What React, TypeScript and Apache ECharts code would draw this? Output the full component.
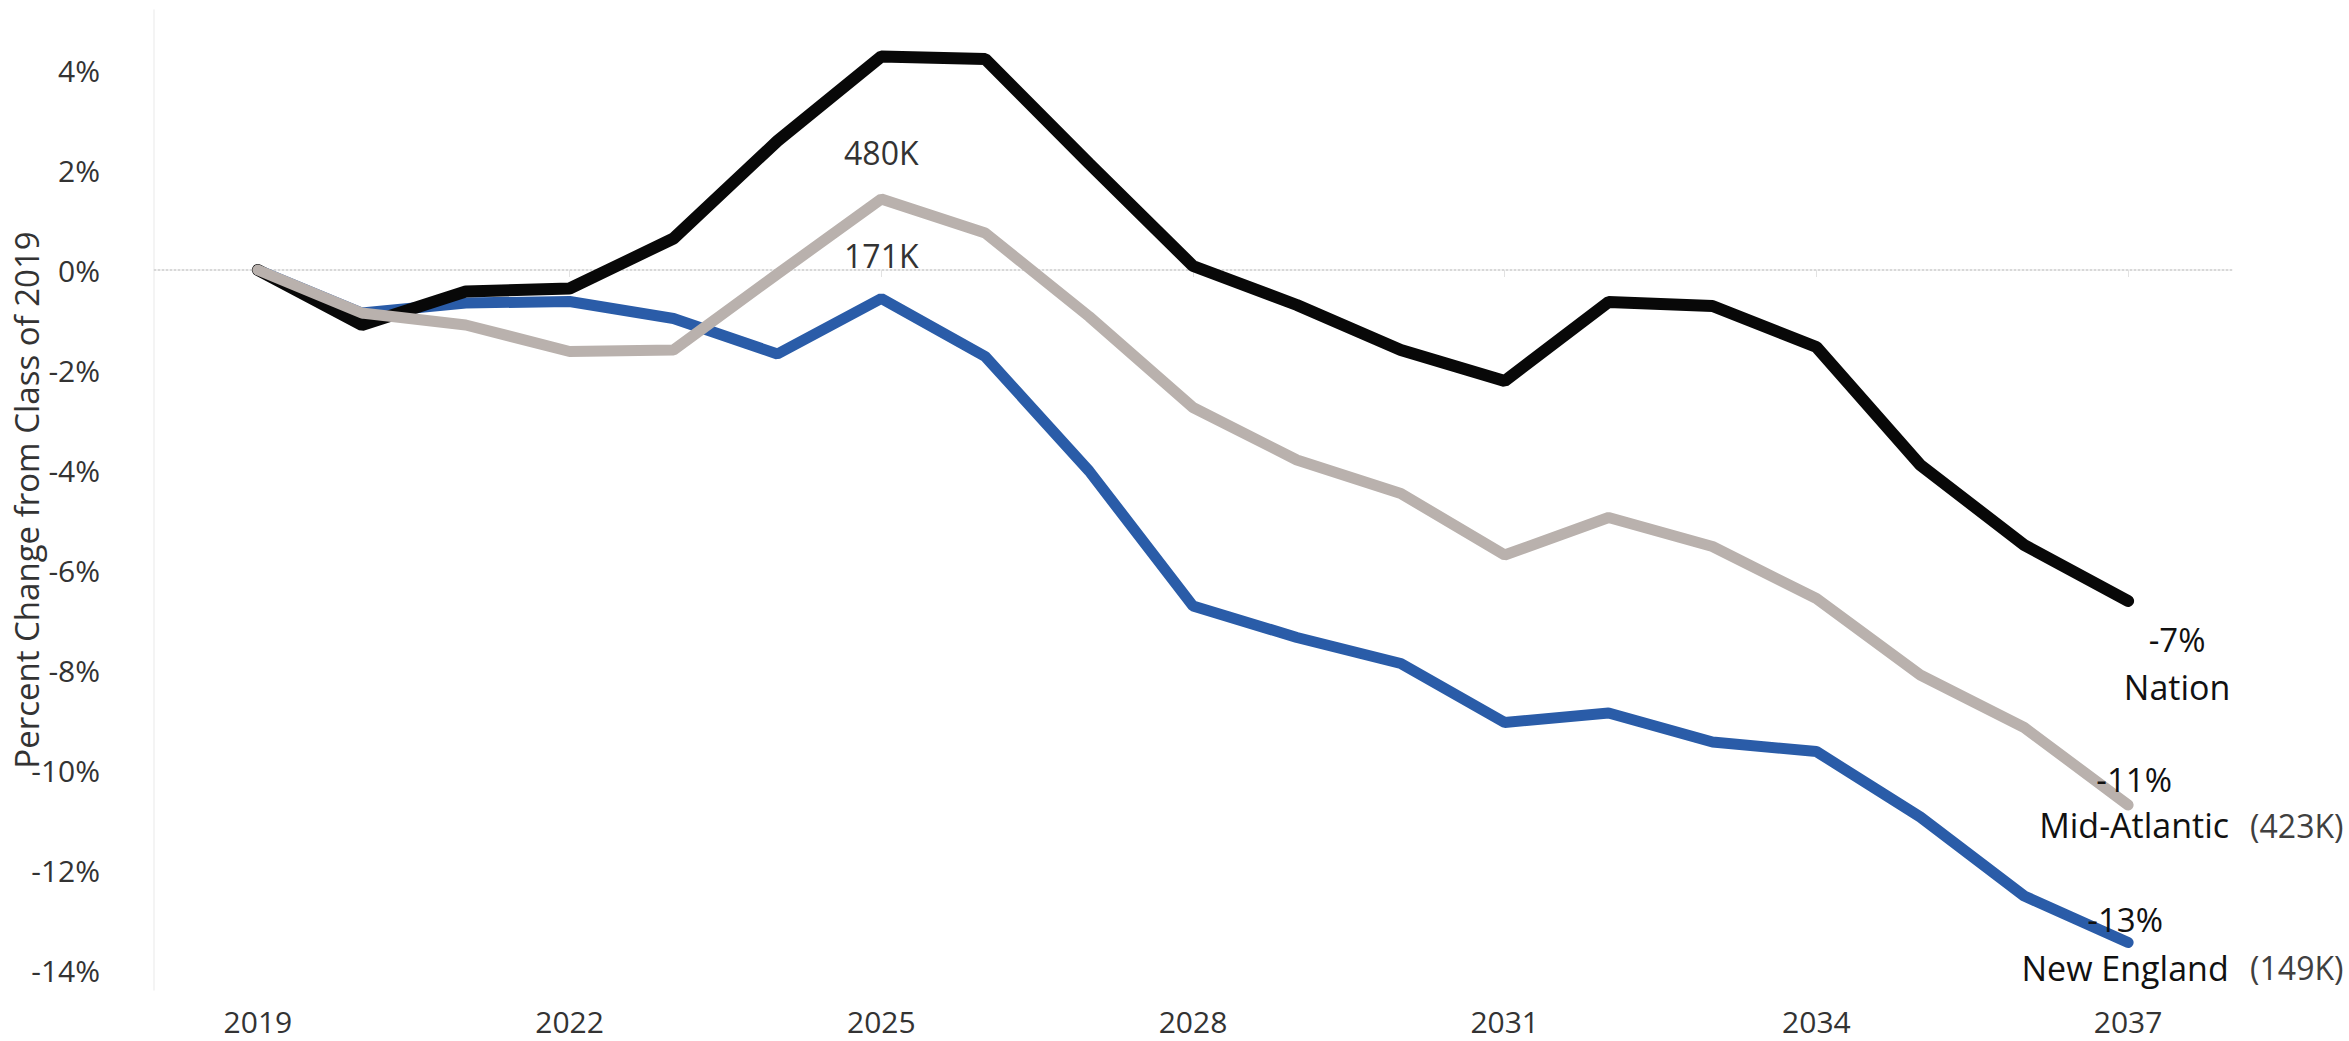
import React, { useEffect, useRef } from "react";
import * as echarts from "echarts";

const years = [2019, 2020, 2021, 2022, 2023, 2024, 2025, 2026, 2027, 2028, 2029, 2030, 2031, 2032, 2033, 2034, 2035, 2036, 2037];
const nation = [0, -1.1, -0.43, -0.37, 0.63, 2.58, 4.27, 4.22, 2.13, 0.08, -0.7, -1.6, -2.22, -0.64, -0.72, -1.54, -3.9, -5.5, -6.62];
const midAtlantic = [0, -0.86, -1.1, -1.63, -1.6, -0.08, 1.42, 0.74, -0.93, -2.75, -3.8, -4.47, -5.7, -4.95, -5.53, -6.57, -8.1, -9.15, -10.7];
const newEngland = [0, -0.86, -0.66, -0.63, -0.97, -1.68, -0.57, -1.73, -4.02, -6.72, -7.35, -7.87, -9.05, -8.86, -9.44, -9.63, -10.94, -12.52, -13.45];

const xTickValues = [2019, 2022, 2025, 2028, 2031, 2034, 2037];
const yTickValues = [-14, -12, -10, -8, -6, -4, -2, 0, 2, 4];
const yAxisTitle = "Percent Change from Class of 2019";

const seriesNames = ["New England", "Nation", "Mid-Atlantic"];
const endChange = ["-13%", "-7%", "-11%"];
const endCount = ["(149K)", "", "(423K)"];
const peakYear = 2025;
const peakLabels = ["171K", "", "480K"];

const FONT = "'Open Sans', 'Noto Sans', sans-serif";

export default function App() {
  const ref = useRef<HTMLDivElement>(null);
  useEffect(() => {
    document.body.style.margin = "0";
    const chart = echarts.init(ref.current!, null, { renderer: "svg" });
    const dataSets = [newEngland, nation, midAtlantic];
    const colors = ["#2a5ca8", "#080808", "#b9b1ad"];
    const widths = [11, 12, 11];

    chart.setOption({
      animation: false,
      grid: { left: 154, right: 117, top: 10, bottom: 51, containLabel: false, outerBoundsMode: "none" },
      xAxis: {
        type: "value",
        min: 2018,
        max: 2038,
        axisLine: { show: true, lineStyle: { color: "#ececec", width: 1.5 } },
        axisTick: { show: true, length: 7, lineStyle: { color: "#e2e2e2" }, customValues: xTickValues },
        axisLabel: {
          customValues: xTickValues,
          color: "#333",
          fontFamily: FONT,
          fontSize: 30,
          margin: 16,
          formatter: (v: number) => String(v),
        },
        splitLine: { show: false },
      },
      yAxis: {
        type: "value",
        min: -14.4,
        max: 5.2,
        axisLine: { show: true, lineStyle: { color: "#f0f0f0", width: 1.5 } },
        axisTick: { show: false },
        axisLabel: {
          customValues: yTickValues,
          color: "#333",
          fontFamily: FONT,
          fontSize: 30,
          margin: 54,
          formatter: (v: number) => `${v}%`,
        },
        splitLine: { show: false },
      },
      series: dataSets.map((d, i) => ({
        type: "line",
        name: seriesNames[i],
        data: years.map((y, j) => [y, d[j]]),
        showSymbol: false,
        symbol: "none",
        lineStyle: { color: colors[i], width: widths[i], cap: "round", join: "bevel" },
        z: 2 + i,
        markLine:
          i === 0
            ? {
                silent: true,
                symbol: "none",
                label: { show: false },
                lineStyle: { color: "#cfcfcf", type: [2, 2], width: 1.5 },
                data: [{ yAxis: 0 }],
                z: 1,
              }
            : undefined,
      })),
    });

    const px = (x: number, y: number) => chart.convertToPixel({ gridIndex: 0 }, [x, y]) as number[];
    const graphics: any[] = [];
    const last = years.length - 1;
    const peakIdx = years.indexOf(peakYear);

    // y-axis title, centred on the plot's vertical extent
    const top = px(2018, 5.2)[1];
    const bottom = px(2018, -14.4)[1];
    graphics.push({
      type: "text",
      x: 26,
      y: (top + bottom) / 2,
      rotation: Math.PI / 2,
      style: { text: yAxisTitle, font: `33px ${FONT}`, fill: "#333", textAlign: "center", textVerticalAlign: "middle" },
    });

    const peakOffsets = [-43, 0, -47];
    dataSets.forEach((d, i) => {
      if (!peakLabels[i]) return;
      const p = px(peakYear, d[peakIdx]);
      graphics.push({
        type: "text",
        x: p[0],
        y: p[1] + peakOffsets[i],
        style: { text: peakLabels[i], font: `32px ${FONT}`, fill: "#333", textAlign: "center", textVerticalAlign: "middle" },
      });
    });

    const endOffsets = [
      { cx: -3, vy: -23, ny: 25 },
      { cx: 49, vy: 38, ny: 86 },
      { cx: 6, vy: -26, ny: 20 },
    ];
    dataSets.forEach((d, i) => {
      const p = px(years[last], d[last]);
      const o = endOffsets[i];
      graphics.push({
        type: "text",
        x: p[0] + o.cx,
        y: p[1] + o.vy,
        z: 10,
        style: { text: endChange[i], font: `33px ${FONT}`, fill: "#111", textAlign: "center", textVerticalAlign: "middle" },
      });
      graphics.push({
        type: "text",
        x: p[0] + o.cx,
        y: p[1] + o.ny,
        z: 10,
        style: { text: seriesNames[i], font: `34px ${FONT}`, fill: "#111", textAlign: "center", textVerticalAlign: "middle" },
      });
      if (endCount[i]) {
        graphics.push({
          type: "text",
          x: p[0] + 122,
          y: p[1] + o.ny,
          z: 10,
          style: { text: endCount[i], font: `32px ${FONT}`, fill: "#404040", textAlign: "left", textVerticalAlign: "middle" },
        });
      }
    });

    chart.setOption({ graphic: graphics });
    return () => chart.dispose();
  }, []);
  return <div ref={ref} style={{ position: "absolute", left: 0, top: 0, width: 2349, height: 1041 }} />;
}
